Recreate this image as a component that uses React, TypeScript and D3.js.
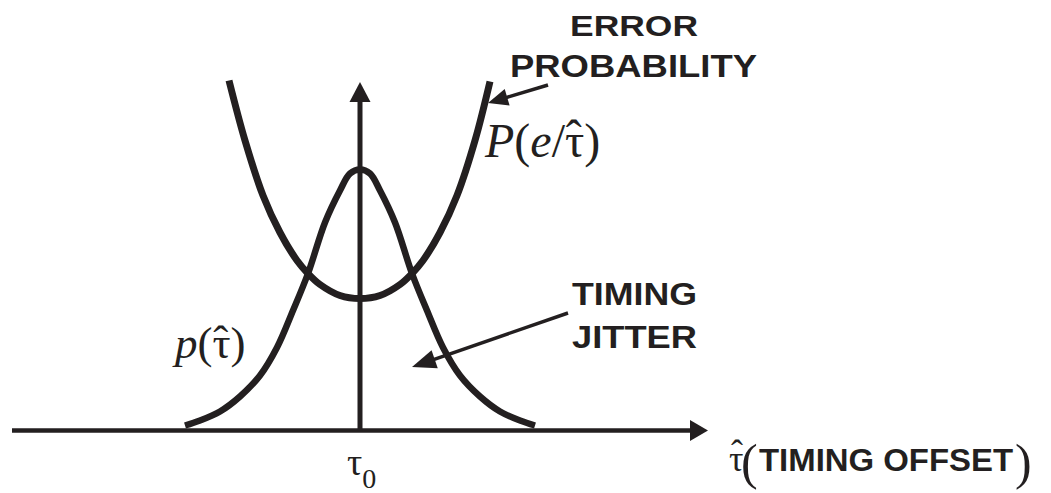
import React from 'react';
import * as d3 from 'd3';

// Error probability curve P(e/τ̂): offset from τ0 vs value
const errOffsets = [-131, -115, -97, -80, -63, -52, -40, -20, 0, 20, 40, 52, 63, 80, 97, 115, 130];
const errValues = [350, 290, 235, 198, 170, 157, 146, 135, 132, 135, 146, 157, 170, 198, 235, 290, 349];

// Timing jitter density p(τ̂)
const jitOffsets = [-175, -160, -140, -120, -100, -83, -67, -52, -35, -20, -10, 0, 10, 20, 35, 52, 67, 83, 100, 120, 140, 160, 175];
const jitValues = [5, 10, 19, 34, 55, 83, 120, 157, 208, 240, 257, 261, 257, 240, 208, 157, 120, 83, 55, 34, 19, 10, 5];

// Pointer arrows in data units: [fromOffset, fromValue, toOffset, toValue]
const errPointer = [188, 345.5, 128, 327.5];
const jitPointer = [208, 117.5, 52, 63.5];

const COLOR = '#231f20';
const SANS = '"Liberation Sans", Arial, Helvetica, sans-serif';
const SERIF = '"Liberation Serif", "Times New Roman", Times, serif';

const TAU_ADV = 0.439; // em advance of τ
const HAT_ADV = 0.333; // em advance of ˆ

function head(tx: number, ty: number, fx: number, fy: number, len: number, hw: number) {
  const dx = tx - fx, dy = ty - fy;
  const d = Math.hypot(dx, dy);
  const ux = dx / d, uy = dy / d;
  const bx = tx - ux * len, by = ty - uy * len;
  const px = -uy, py = ux;
  return `M${tx},${ty}L${bx + px * hw},${by + py * hw}L${bx - px * hw},${by - py * hw}Z`;
}

// τ with a hat centred over it, as tspans within one text element
function TauHat({ fs, lift, after }: { fs: number; lift: number; after: string }) {
  const back = -(TAU_ADV / 2 + HAT_ADV / 2) * fs;
  const fwd = (TAU_ADV / 2 - HAT_ADV / 2) * fs;
  return (
    <>
      <tspan fontStyle="normal">τ</tspan>
      <tspan fontStyle="normal" dx={back} dy={-lift}>ˆ</tspan>
      <tspan fontStyle="normal" dx={fwd} dy={lift}>{after}</tspan>
    </>
  );
}

export default function App() {
  const x = d3.scaleLinear().domain([-350, 350]).range([10, 710]);
  const y = d3.scaleLinear().domain([0, 350]).range([430.5, 80.5]);

  const line = d3.line<[number, number]>()
    .x(d => x(d[0]))
    .y(d => y(d[1]))
    .curve(d3.curveCatmullRom.alpha(0.5));

  const errPts = errOffsets.map((o, i) => [o, errValues[i]] as [number, number]);
  const jitPts = jitOffsets.map((o, i) => [o, jitValues[i]] as [number, number]);

  const x0 = x(0);
  const yBase = y(0);
  const vTip = y(348.5);
  const hTip = x(348);

  const ep = errPointer.map((v, i) => (i % 2 === 0 ? x(v) : y(v)));
  const jp = jitPointer.map((v, i) => (i % 2 === 0 ? x(v) : y(v)));

  const epLen = 20, jpLen = 24;
  const shorten = (p: number[], len: number) => {
    const dx = p[2] - p[0], dy = p[3] - p[1];
    const d = Math.hypot(dx, dy);
    return [p[2] - (dx / d) * (len - 2), p[3] - (dy / d) * (len - 2)];
  };
  const epEnd = shorten(ep, epLen);
  const jpEnd = shorten(jp, jpLen);

  return (
    <svg width={1051} height={493} style={{ position: 'absolute', left: 0, top: 0, background: '#fff' }}>
      <rect width={1051} height={493} fill="#fff" />
      {/* horizontal axis */}
      <line x1={x(-348)} y1={yBase} x2={hTip - 16} y2={yBase} stroke={COLOR} strokeWidth={4.5} />
      <path d={head(hTip, yBase, x(0), yBase, 18, 10.5)} fill={COLOR} />
      {/* vertical axis */}
      <line x1={x0} y1={yBase} x2={x0} y2={vTip + 18} stroke={COLOR} strokeWidth={5} />
      <path d={head(x0, vTip, x0, yBase, 20, 10.5)} fill={COLOR} />

      {/* curves */}
      <path d={line(errPts) || ''} fill="none" stroke={COLOR} strokeWidth={7} strokeLinecap="butt" />
      <path d={line(jitPts) || ''} fill="none" stroke={COLOR} strokeWidth={6.5} strokeLinecap="butt" />

      {/* pointers */}
      <line x1={ep[0]} y1={ep[1]} x2={epEnd[0]} y2={epEnd[1]} stroke={COLOR} strokeWidth={3.5} />
      <path d={head(ep[2], ep[3], ep[0], ep[1], epLen, 8.5)} fill={COLOR} />
      <line x1={jp[0]} y1={jp[1]} x2={jpEnd[0]} y2={jpEnd[1]} stroke={COLOR} strokeWidth={3.5} />
      <path d={head(jp[2], jp[3], jp[0], jp[1], jpLen, 9.5)} fill={COLOR} />

      {/* bold labels */}
      <g fill={COLOR} fontFamily={SANS} fontWeight="bold">
        <text x={570} y={36} fontSize={29} textLength={128} lengthAdjust="spacingAndGlyphs">ERROR</text>
        <text x={510} y={77} fontSize={32} textLength={247} lengthAdjust="spacingAndGlyphs">PROBABILITY</text>
        <text x={572} y={305} fontSize={32} textLength={125} lengthAdjust="spacingAndGlyphs">TIMING</text>
        <text x={572} y={348} fontSize={32} textLength={125} lengthAdjust="spacingAndGlyphs">JITTER</text>
      </g>

      {/* math labels */}
      <g fill={COLOR} fontFamily={SERIF}>
        <text x={485} y={157} fontSize={48}>
          <tspan fontStyle="italic">P</tspan>
          <tspan>(</tspan>
          <tspan fontStyle="italic">e</tspan>
          <tspan>/</tspan>
          <TauHat fs={48} lift={3} after=")" />
        </text>

        <text x={175} y={358} fontSize={45}>
          <tspan fontStyle="italic">p</tspan>
          <tspan>(</tspan>
          <TauHat fs={45} lift={2} after=")" />
        </text>

        <text x={347} y={475} fontSize={38}>
          τ<tspan fontSize={28} dy={13}>0</tspan>
        </text>

        {/* axis title */}
        <text fill={COLOR}>
          <tspan x={729} y={471} fontFamily={SERIF} fontSize={36}>τ</tspan>
          <tspan x={731} y={465} fontFamily={SERIF} fontSize={36}>ˆ</tspan>
          <tspan x={741} y={479} fontFamily={SERIF} fontSize={50}>(</tspan>
          <tspan x={759} y={471} fontFamily={SANS} fontWeight="bold" fontSize={32} textLength={254} lengthAdjust="spacingAndGlyphs">TIMING OFFSET</tspan>
          <tspan x={1015} y={479} fontFamily={SERIF} fontSize={50}>)</tspan>
        </text>
      </g>
    </svg>
  );
}
